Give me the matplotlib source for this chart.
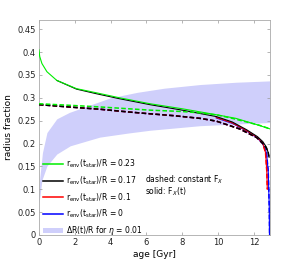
import matplotlib
matplotlib.use('Agg')
import matplotlib.pyplot as plt
import numpy as np
from matplotlib.lines import Line2D
from matplotlib.patches import Patch

# shaded band dR(t)/R, eta = 0.01
band_up_t = [0.01, 0.05, 0.2, 0.45, 1.0, 1.7, 2.7, 4.0, 5.5, 7.0, 9.0, 11.0, 12.9]
band_up = [0.10, 0.125, 0.18, 0.224, 0.254, 0.268, 0.282, 0.300, 0.312, 0.321, 0.329, 0.334, 0.337]
band_lo_t = [0.01, 0.17, 0.45, 1.0, 1.75, 2.7, 3.4, 5.0, 6.2, 9.0, 12.9]
band_lo = [0.07, 0.12, 0.151, 0.177, 0.195, 0.206, 0.214, 0.223, 0.229, 0.239, 0.246]

# solid: F_X(t)
green_t = [0, 0.05, 0.17, 0.45, 1.0, 2.1, 3.2, 4.5, 6.2, 8, 9.9, 11, 12.35, 12.9]
green = [0.405, 0.39, 0.375, 0.357, 0.338, 0.320, 0.311, 0.300, 0.287, 0.276, 0.263, 0.255, 0.239, 0.232]
black_t = [1.0, 2.1, 3.2, 4.5, 6.2, 8, 9.9, 10.8, 11.6, 12.2, 12.5, 12.7, 12.8, 12.85]
black = [0.338, 0.319, 0.309, 0.298, 0.285, 0.273, 0.259, 0.247, 0.230, 0.215, 0.204, 0.192, 0.180, 0.17]
red_t = [9.9, 10.8, 11.6, 12.2, 12.5, 12.65, 12.72, 12.75]
red = [0.257, 0.245, 0.228, 0.213, 0.200, 0.180, 0.140, 0.10]
blue_t = [9.9, 10.8, 11.6, 12.2, 12.5, 12.7, 12.8, 12.86, 12.87]
blue = [0.256, 0.244, 0.227, 0.212, 0.199, 0.180, 0.140, 0.060, 0.0]

# dashed: constant F_X
green_d_t = [0, 2, 3.4, 5, 6.2, 8, 9, 10, 10.8, 11.6, 12.3, 12.9]
green_d = [0.287, 0.283, 0.280, 0.276, 0.273, 0.270, 0.267, 0.262, 0.255, 0.247, 0.240, 0.232]
black_d_t = [0, 2, 3.4, 5, 6.2, 7.5, 9, 9.9, 11.2, 12.16, 12.5, 12.7, 12.8, 12.85]
black_d = [0.285, 0.279, 0.275, 0.269, 0.265, 0.261, 0.255, 0.249, 0.232, 0.213, 0.200, 0.190, 0.180, 0.17]
red_d_t = [0, 2, 3.4, 5, 6.2, 7.5, 9, 9.9, 11.2, 12.16, 12.5, 12.65, 12.72, 12.75]
red_d = [0.285, 0.279, 0.275, 0.269, 0.265, 0.261, 0.255, 0.249, 0.232, 0.213, 0.200, 0.180, 0.140, 0.10]
blue_d_t = [0, 2, 3.4, 5, 6.2, 7.5, 9, 9.9, 11.2, 12.16, 12.5, 12.7, 12.8, 12.86, 12.88]
blue_d = [0.285, 0.279, 0.275, 0.269, 0.265, 0.261, 0.255, 0.249, 0.232, 0.213, 0.200, 0.182, 0.140, 0.060, 0.0]

labels = ['0.23', '0.17', '0.1', '0']
colors = ['#00ee00', 'black', 'red', 'blue']
band_color = '#cfcffb'

plt.rcParams['font.family'] = 'DejaVu Sans'
fig = plt.figure(figsize=(2.99, 2.64), dpi=100)
ax = fig.add_axes([0.130, 0.110, 0.773, 0.814])

# band on a common grid
tt = np.union1d(band_up_t, band_lo_t)
ax.fill_between(tt, np.interp(tt, band_lo_t, band_lo), np.interp(tt, band_up_t, band_up),
                color=band_color, lw=0, zorder=1)

# solid lines
lw_s = 0.8
ax.plot(blue_t, blue, color=colors[3], lw=lw_s, zorder=3)
ax.plot(red_t, red, color=colors[2], lw=lw_s, zorder=3)
ax.plot(black_t, black, color=colors[1], lw=lw_s, zorder=3)
ax.plot(green_t, green, color=colors[0], lw=lw_s, zorder=3)

# dashed lines
dash = (3, 1.5)
lw_d = 1.1
ax.plot(blue_d_t, blue_d, color=colors[3], lw=lw_d, dashes=dash, zorder=4)
ax.plot(red_d_t, red_d, color=colors[2], lw=lw_d, dashes=dash, zorder=4)
ax.plot(black_d_t, black_d, color=colors[1], lw=lw_d, dashes=dash, zorder=4)
ax.plot(green_d_t, green_d, color=colors[0], lw=lw_d, dashes=dash, zorder=5)

ax.set_xlim(0, 12.9)
ax.set_ylim(0, 0.47)
ax.set_xticks([0, 2, 4, 6, 8, 10, 12])
ax.set_yticks(np.arange(0, 0.46, 0.05))
ax.set_yticklabels(['0', '0.05', '0.1', '0.15', '0.2', '0.25', '0.3', '0.35', '0.4', '0.45'])
ax.tick_params(direction='in', length=2.5, width=0.5, labelsize=6, colors='#999999',
               labelcolor='#222222', top=True, right=True, pad=2)
for s in ax.spines.values():
    s.set_color('#aaaaaa')
    s.set_linewidth(0.6)

ax.set_xlabel('age [Gyr]', fontsize=6.5, labelpad=2)
ax.set_ylabel('radius fraction', fontsize=6.5, labelpad=3)

handles = [Line2D([], [], color=c, lw=1.1) for c in colors]
handles.append(Patch(facecolor=band_color, edgecolor='none'))
leg_labels = [r'r$_{\rm env}$(t$_{\rm star}$)/R = ' + v for v in labels]
leg_labels.append(r'$\Delta$R(t)/R for $\eta$ = 0.01')
ax.legend(handles, leg_labels, loc='upper left', bbox_to_anchor=(0.017, 0.36),
          frameon=False, fontsize=5.5, handlelength=2.6, handletextpad=0.4,
          labelspacing=0.55, borderaxespad=0, borderpad=0)

ax.text(0.46, 0.245, r'dashed: constant F$_X$', transform=ax.transAxes, fontsize=5.5)
ax.text(0.46, 0.19, r'solid: F$_X$(t)', transform=ax.transAxes, fontsize=5.5)

fig.savefig('out.png', dpi=100)
